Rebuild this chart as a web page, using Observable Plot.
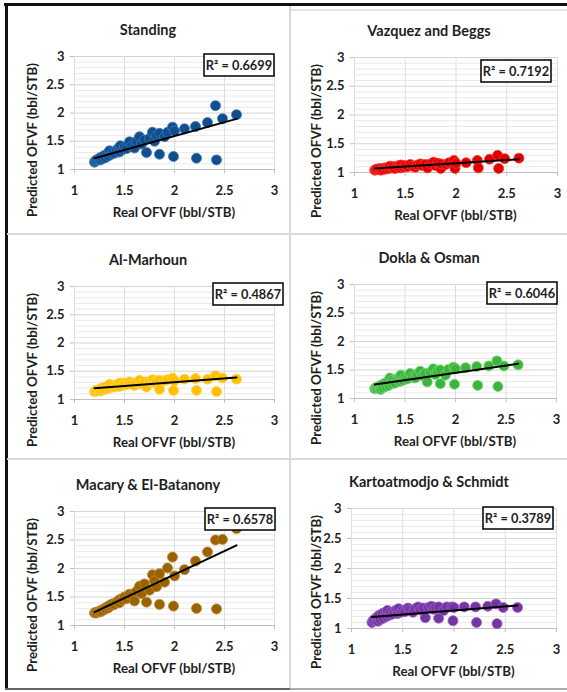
<!DOCTYPE html>
<html>
<head>
<meta charset="utf-8">
<script src="https://cdn.jsdelivr.net/npm/d3@7"></script>
<script src="https://cdn.jsdelivr.net/npm/@observablehq/plot@0.6"></script>
<style>
  body { margin: 0; background: #fff; }
  #page { position: relative; width: 567px; height: 692px; overflow: hidden; font-family: Lato, "Open Sans", "DejaVu Sans", sans-serif; }
  .cell { position: absolute; }
  .rule { position: absolute; }
</style>
</head>
<body>
<div id="page"></div>
<script>
// Measured oil formation volume factor (bbl/STB), shared by every correlation
const realOFVF = [1.20,1.21,1.22,1.24,1.25,1.26,1.27,1.28,1.30,1.31,1.33,1.34,1.35,1.37,1.38,1.40,1.42,1.44,1.45,1.46,1.48,1.50,1.52,1.55,1.57,1.60,1.62,1.65,1.67,1.70,1.72,1.75,1.78,1.80,1.82,1.85,1.85,1.90,1.93,1.98,1.99,2.00,2.10,2.21,2.22,2.33,2.41,2.42,2.48,2.62];

// Predicted OFVF for each correlation, in the same sample order
const standing = [1.13,1.15,1.17,1.18,1.20,1.17,1.22,1.19,1.25,1.21,1.28,1.24,1.33,1.27,1.31,1.29,1.34,1.38,1.31,1.42,1.35,1.40,1.37,1.49,1.41,1.38,1.50,1.58,1.45,1.52,1.30,1.55,1.66,1.50,1.60,1.27,1.64,1.58,1.66,1.75,1.23,1.68,1.72,1.76,1.20,1.83,2.13,1.17,1.90,1.97];
const vazquezBeggs = [1.04,1.05,1.06,1.05,1.07,1.04,1.06,1.05,1.08,1.06,1.09,1.07,1.11,1.08,1.10,1.07,1.11,1.12,1.08,1.13,1.09,1.12,1.10,1.14,1.11,1.09,1.13,1.15,1.12,1.14,1.08,1.15,1.18,1.12,1.16,1.07,1.15,1.14,1.17,1.21,1.07,1.16,1.17,1.21,1.08,1.23,1.30,1.07,1.24,1.25];
const alMarhoun = [1.14,1.16,1.15,1.17,1.18,1.15,1.20,1.17,1.22,1.18,1.24,1.20,1.27,1.22,1.25,1.22,1.26,1.28,1.23,1.29,1.25,1.29,1.26,1.31,1.27,1.25,1.30,1.34,1.28,1.31,1.22,1.32,1.35,1.30,1.33,1.18,1.34,1.33,1.35,1.38,1.16,1.33,1.36,1.37,1.16,1.36,1.42,1.14,1.38,1.36];
const doklaOsman = [1.17,1.19,1.18,1.20,1.22,1.16,1.24,1.19,1.27,1.21,1.30,1.23,1.36,1.26,1.32,1.27,1.34,1.37,1.30,1.41,1.32,1.37,1.34,1.44,1.37,1.36,1.43,1.48,1.40,1.44,1.29,1.46,1.52,1.42,1.48,1.26,1.50,1.41,1.51,1.55,1.25,1.52,1.54,1.56,1.23,1.57,1.66,1.21,1.57,1.59];
const macaryElBatanony = [1.22,1.23,1.22,1.24,1.25,1.24,1.27,1.26,1.30,1.29,1.33,1.31,1.35,1.35,1.38,1.37,1.41,1.44,1.40,1.46,1.45,1.50,1.47,1.55,1.52,1.43,1.60,1.69,1.56,1.73,1.41,1.62,1.89,1.78,1.68,1.37,1.91,1.76,2.01,2.20,1.34,1.87,1.98,2.13,1.30,2.29,2.50,1.29,2.51,2.70];
const kartoatmodjoSchmidt = [1.10,1.13,1.15,1.17,1.19,1.12,1.22,1.15,1.25,1.17,1.27,1.20,1.30,1.22,1.27,1.24,1.29,1.31,1.25,1.33,1.27,1.30,1.28,1.34,1.30,1.27,1.33,1.36,1.31,1.34,1.18,1.35,1.37,1.32,1.35,1.17,1.36,1.30,1.36,1.36,1.13,1.35,1.36,1.36,1.10,1.37,1.41,1.08,1.35,1.35];

const methods = ["Standing", "Vazquez and Beggs", "Al-Marhoun", "Dokla & Osman", "Macary & El-Batanony", "Kartoatmodjo & Schmidt"];
const predicted = [standing, vazquezBeggs, alMarhoun, doklaOsman, macaryElBatanony, kartoatmodjoSchmidt];

// Linear trendline of each correlation and its coefficient of determination
const fitSlope = [0.490, 0.113, 0.134, 0.257, 0.826, 0.136];
const fitIntercept = [0.612, 0.935, 1.040, 0.937, 0.243, 1.027];
const rSquared = ["0.6699", "0.7192", "0.4867", "0.6046", "0.6578", "0.3789"];

const markerFill = ["#104e8e", "#e00000", "#ffc000", "#3cb53c", "#9a6200", "#7434a3"];
const markerStroke = ["#3a78b8", "#ff3a3a", "#ffd451", "#79d679", "#b98733", "#9a63c4"];

const axisTicks = [1, 1.5, 2, 2.5, 3];
const xLabel = "Real OFVF (bbl/STB)";
const yLabel = "Predicted OFVF (bbl/STB)";

// Layout: each chart cell on the page and the plot area inside it (page pixels)
const cells = [
  {left: 7, top: 6, w: 282, h: 227},
  {left: 291, top: 10, w: 276, h: 223},
  {left: 7, top: 235, w: 282, h: 222},
  {left: 291, top: 235, w: 276, h: 222},
  {left: 7, top: 460, w: 282, h: 227},
  {left: 291, top: 460, w: 276, h: 227}
];
const areas = [
  {left: 74, top: 56, w: 200, h: 113},
  {left: 354, top: 57, w: 203, h: 115},
  {left: 74, top: 286, w: 200, h: 113},
  {left: 354, top: 284, w: 202, h: 114},
  {left: 74, top: 511, w: 200, h: 114},
  {left: 351, top: 508, w: 205, h: 120}
];
// R² box placement: offset of its right edge and top from the plot area corner
const boxOffsets = [[0, -2], [-6, 3], [9, -3], [1, -2], [1, -3], [-3, -1]];

const minorTicks = d3.range(10, 31).filter(k => k % 5 !== 0).map(k => k / 10);
const page = document.getElementById("page");
const font = "Lato, 'Open Sans', sans-serif";

function rule(left, top, width, height, color) {
  const d = document.createElement("div");
  d.className = "rule";
  Object.assign(d.style, {left: left + "px", top: top + "px", width: width + "px", height: height + "px", background: color});
  page.appendChild(d);
}

methods.forEach((name, i) => {
  const cell = cells[i], area = areas[i];
  const mL = area.left - cell.left, mT = area.top - cell.top;
  const mR = cell.left + cell.w - area.left - area.w;
  const mB = cell.top + cell.h - area.top - area.h;
  const pts = realOFVF.map((x, j) => ({x, y: predicted[i][j]}));
  const fit = d3.extent(realOFVF).map(x => ({x, y: fitIntercept[i] + fitSlope[i] * x}));

  const chart = Plot.plot({
    width: cell.w, height: cell.h,
    marginLeft: mL, marginTop: mT, marginRight: mR, marginBottom: mB,
    x: {domain: [1, 3]},
    y: {domain: [1, 3]},
    style: {fontFamily: font, fontSize: "13px", fontWeight: "bold", background: "transparent"},
    marks: [
      Plot.gridY(minorTicks, {stroke: "#e9e9e9", strokeOpacity: 1}),
      Plot.gridY(axisTicks, {stroke: "#d4d4d4", strokeOpacity: 1}),
      Plot.gridX(axisTicks, {stroke: "#dedede", strokeOpacity: 1}),
      Plot.ruleY([1], {stroke: "#bfbfbf"}),
      Plot.axisX(axisTicks, {tickSize: 4, tickPadding: 12, label: null, stroke: "#bfbfbf", fill: "#1e1e1e", tickFormat: d => String(d)}),
      Plot.axisY(axisTicks, {tickSize: 4, tickPadding: 6, label: null, stroke: "#bfbfbf", fill: "#1e1e1e", tickFormat: d => String(d)}),
      Plot.dot(pts, {x: "x", y: "y", r: 5, fill: markerFill[i], stroke: markerStroke[i], strokeWidth: 0.8}),
      Plot.line(fit, {x: "x", y: "y", stroke: "#000", strokeWidth: 2})
    ]
  });

  const wrap = document.createElement("div");
  wrap.className = "cell";
  wrap.style.left = cell.left + "px";
  wrap.style.top = cell.top + "px";
  wrap.appendChild(chart);
  page.appendChild(wrap);

  const svg = d3.select(chart);
  svg.append("text")
    .attr("x", cell.w / 2).attr("y", mT - 27)
    .attr("text-anchor", "middle").attr("dominant-baseline", "central")
    .attr("font-family", font).attr("font-size", 14.5).attr("font-weight", "bold").attr("fill", "#1e1e1e")
    .text(name);
  svg.append("text")
    .attr("x", mL + area.w / 2).attr("y", mT + area.h + 43)
    .attr("text-anchor", "middle").attr("dominant-baseline", "central")
    .attr("font-family", font).attr("font-size", 13.3).attr("font-weight", "bold").attr("fill", "#1e1e1e")
    .text(xLabel);
  svg.append("text")
    .attr("transform", `translate(25,${mT + 84}) rotate(-90)`)
    .attr("text-anchor", "middle").attr("dominant-baseline", "central")
    .attr("font-family", font).attr("font-size", 13.3).attr("font-weight", "bold").attr("fill", "#1e1e1e")
    .text(yLabel);

  const [dx, dy] = boxOffsets[i];
  const bw = 70, bh = 22;
  const bx = mL + area.w + dx - bw, by = mT + dy;
  const box = svg.append("g");
  box.append("rect").attr("x", bx).attr("y", by).attr("width", bw).attr("height", bh)
    .attr("fill", "#fff").attr("stroke", "#000").attr("stroke-width", 1.5);
  box.append("text")
    .attr("x", bx + bw / 2).attr("y", by + bh / 2)
    .attr("text-anchor", "middle").attr("dominant-baseline", "central")
    .attr("font-family", font).attr("font-size", 12.8).attr("font-weight", "bold").attr("fill", "#1e1e1e")
    .text(`R² = ${rSquared[i]}`);
});

// Frame and dividers around the six charts
rule(4, 3, 563, 3, "#111");
rule(5, 3, 2.5, 687, "#111");
rule(5, 688, 285, 2, "#666");
rule(290, 688, 277, 2, "#aaa");
rule(289, 6, 1.5, 682, "#d9d9d9");
rule(291, 9, 276, 1.5, "#e3e3e3");
rule(7, 233, 560, 1.5, "#d9d9d9");
rule(7, 458, 560, 1.5, "#d9d9d9");
</script>
</body>
</html>
